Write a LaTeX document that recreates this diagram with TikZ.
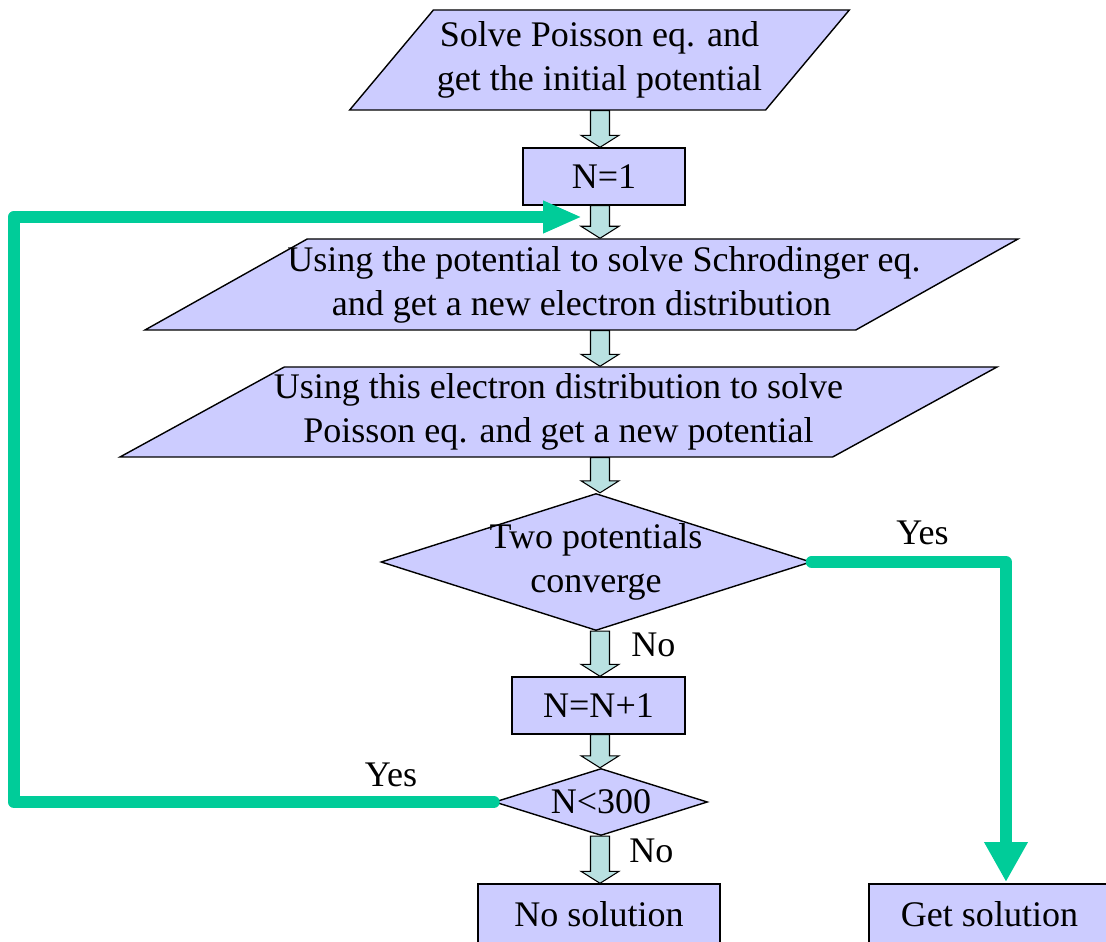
\documentclass[tikz,border=0pt]{standalone}
\usepackage{fontspec}
\setmainfont{Liberation Serif}
\usepackage{xcolor}
\usepackage{tikz}
\usetikzlibrary{arrows.meta, shapes.geometric, calc}

\definecolor{boxfill}{RGB}{204,204,255}
\definecolor{arrowfill}{RGB}{185,225,225}
\definecolor{loopgreen}{RGB}{0,204,153}

\newcommand{\flowarrow}[2]{%
  \draw[block_arrow] let \p1=(#1.south), \p2=(#2.north), \p3=(spine) in
    (\x3-0.19cm,\y1) -- (\x3-0.19cm,\y2+0.24cm) -- (\x3-0.38cm,\y2+0.24cm)
    -- (\x3,\y2) -- (\x3+0.38cm,\y2+0.24cm) -- (\x3+0.19cm,\y2+0.24cm)
    -- (\x3+0.19cm,\y1) -- cycle;}

\begin{document}
\begin{tikzpicture}[font=\fontsize{20.5}{25}\selectfont]
            \tikzset{
                io_box/.style={draw, shape = trapezium, trapezium stretches body, fill=boxfill, thick, align=center, inner sep=2pt},
                step_box/.style={draw, shape = rectangle, fill=boxfill, thick, align=center, inner sep=2pt},
                test_node/.style={draw, shape = diamond, fill=boxfill, thick, align=center, inner sep=-5pt},
                block_arrow/.style={draw, fill=arrowfill, semithick},
                green_line/.style={draw=loopgreen, line width=6.8pt, line cap=round, line join=round},
                label_text/.style={inner sep=0pt}
            }
            \useasboundingbox (0,0) rectangle (22.12,18.82);
            \coordinate (spine) at (12,0);

            \node[io_box, trapezium left angle=45, trapezium right angle=135,
                  minimum width=9.9cm, minimum height=2cm] (start) at (11.99,17.62)
                  {Solve Poisson eq. and\\get the initial potential};
            \node[step_box, minimum width=3.24cm, minimum height=1.14cm] (first) at (12.08,15.29) {N=1};
            \node[io_box, trapezium left angle=27.3, trapezium right angle=152.7, inner xsep=-1.4cm,
                  minimum width=17.46cm, minimum height=1.82cm] (schrod) at (11.63,13.13)
                  {\hspace*{0.9cm}Using the potential to solve Schrodinger eq.\\and get a new electron distribution};
            \node[io_box, trapezium left angle=27, trapezium right angle=153, inner xsep=-0.8cm,
                  minimum width=17.54cm, minimum height=1.8cm] (poisson) at (11.17,10.58)
                  {Using this electron distribution to solve\\Poisson eq. and get a new potential};
            \node[test_node, shape aspect=3.14, minimum width=8.6cm, minimum height=2.74cm] (conv) at (11.92,7.58)
                  {Two potentials\\converge};
            \node[step_box, minimum width=3.46cm, minimum height=1.14cm] (next) at (11.97,4.71) {N=N+1};
            \node[test_node, shape aspect=3.18, minimum width=4.26cm, minimum height=1.34cm] (limit) at (12.02,2.78) {N<300};
            \node[step_box, minimum width=4.84cm, minimum height=1.2cm] (nosol) at (11.98,0.54) {No solution};
            \node[step_box, minimum width=4.82cm, minimum height=1.2cm] (getsol) at (19.79,0.54) {Get solution};

            \flowarrow{start}{first}
            \flowarrow{first}{schrod}
            \flowarrow{schrod}{poisson}
            \flowarrow{poisson}{conv}
            \flowarrow{conv}{next}
            \flowarrow{next}{limit}
            \flowarrow{limit}{nosol}

            \node[label_text] (yes_right) at (18.45,8.16) {Yes};
            \node[label_text] (yes_left) at (7.82,3.33) {Yes};
            \node[label_text, anchor=west] (no_upper) at (12.62,5.92) {No};
            \node[label_text, anchor=west] (no_lower) at (12.58,1.8) {No};

            \coordinate (loop_in) at (11.64,14.48);
            \coordinate (sol_in) at (20.12,1.18);
            \draw[green_line, -{Triangle[length=0.78cm,width=0.6cm]}] (limit.west) -- ++(-9.6,0) |- (loop_in);
            \draw[green_line, -{Triangle[length=0.8cm,width=0.82cm]}] (conv.east) -| (sol_in);
        \end{tikzpicture}
\end{document}
